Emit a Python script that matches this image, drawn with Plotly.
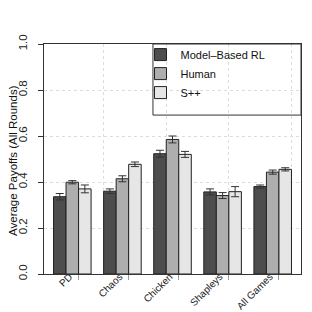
import plotly.graph_objects as go

categories = ["PD", "Chaos", "Chicken", "Shapleys", "All Games"]
series_names = ["Model\u2013Based RL", "Human", "S++"]
model_rl = [0.336, 0.360, 0.523, 0.357, 0.380]
human = [0.399, 0.414, 0.585, 0.341, 0.443]
spp = [0.370, 0.477, 0.520, 0.358, 0.455]
model_rl_err = [0.014, 0.010, 0.015, 0.013, 0.007]
human_err = [0.007, 0.013, 0.015, 0.013, 0.009]
spp_err = [0.017, 0.010, 0.013, 0.022, 0.007]
y_ticks = [0.0, 0.2, 0.4, 0.6, 0.8, 1.0]
y_title = "Average Payoffs (All Rounds)"

values = [model_rl, human, spp]
errors = [model_rl_err, human_err, spp_err]
colors = ["#4D4D4D", "#AEAEAE", "#E6E6E6"]

# R barplot(beside=TRUE) layout: 3 bars per group, 1 unit gap
group_step = 4
bar_pos = lambda g, i: group_step * g + 1.5 + i
tick_pos = [group_step * g + 3 for g in range(len(categories))]

FONT = "Liberation Sans, Arial, Helvetica, sans-serif"

fig = go.Figure()
for i, name in enumerate(series_names):
    fig.add_trace(go.Bar(
        x=[bar_pos(g, i) for g in range(len(categories))],
        y=values[i],
        width=1,
        name=name,
        marker=dict(color=colors[i], line=dict(color="#222222", width=1)),
        error_y=dict(type="data", array=errors[i], visible=True,
                     color="#333333", thickness=1, width=4),
    ))

fig.add_trace(go.Scatter(x=[None], y=[None], xaxis="x2", showlegend=False,
                         hoverinfo="skip"))

xr = [0.24, 20.76]
fig.update_layout(
    width=312, height=312,
    margin=dict(l=36, r=19, t=36, b=46, autoexpand=False),
    plot_bgcolor="white", paper_bgcolor="white",
    barmode="overlay",
    font=dict(family=FONT, size=10, color="#222222"),
    showlegend=True,
    legend=dict(x=0.3755, y=1.017, xanchor="left", yanchor="top",
                bgcolor="rgba(0,0,0,0)", borderwidth=0,
                font=dict(size=11, color="#111111")),
    xaxis=dict(range=xr, tickvals=tick_pos, ticktext=categories,
               tickangle=-45, ticks="outside", ticklen=5,
               tickcolor="#999999", showgrid=False, zeroline=False,
               showline=True, linecolor="#333333", linewidth=1, mirror=True,
               tickfont=dict(size=10, color="#222222"), automargin=False,
               ticklabelshift=-9, ticklabelstandoff=-13),
    xaxis2=dict(range=xr, overlaying="x", anchor="y", tickvals=[5, 10, 15, 20],
                showticklabels=False, ticks="", showgrid=True,
                gridcolor="#DDDDDD", griddash="dot", gridwidth=1,
                zeroline=False, showline=False, automargin=False),
    yaxis=dict(range=[0, 1], tickvals=y_ticks,
               ticktext=[f"{v:.1f}" for v in y_ticks], tickangle=-90,
               ticks="outside", ticklen=5, tickcolor="#333333",
               showgrid=True, gridcolor="#DDDDDD", griddash="dot",
               zeroline=False, showline=True, linecolor="#333333",
               linewidth=1, mirror=True, tickfont=dict(size=11.5),
               automargin=False, ticklabelstandoff=6),
    annotations=[dict(text=y_title, textangle=-90, showarrow=False,
                      xref="paper", yref="paper", x=-0.1518, y=0.4957,
                      xanchor="left", yanchor="middle",
                      font=dict(size=11.5, color="#111111"))],
    shapes=[dict(type="rect", xref="paper", yref="paper",
                 x0=0.424, x1=1.0, y0=0.691, y1=1.0,
                 line=dict(color="#333333", width=1), fillcolor="rgba(0,0,0,0)",
                 layer="above")],
)

fig.write_html("out.html")
